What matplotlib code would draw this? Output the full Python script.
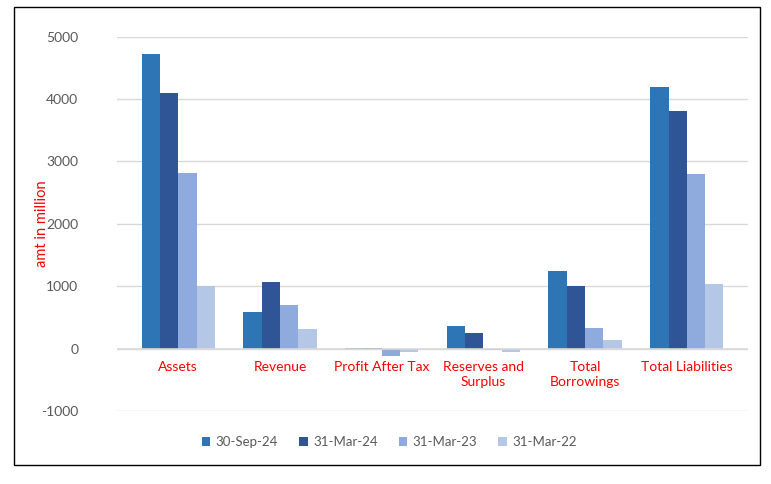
import numpy as np
import matplotlib.pyplot as plt
from matplotlib.patches import Rectangle

# categories and series (amt in million)
categories = ["Assets", "Revenue", "Profit After Tax", "Reserves and\nSurplus", "Total\nBorrowings", "Total Liabilities"]
series_names = ["30-Sep-24", "31-Mar-24", "31-Mar-23", "31-Mar-22"]
sep24 = [4730, 582, 10, 357, 1245, 4195]
mar24 = [4100, 1075, 10, 251, 1000, 3808]
mar23 = [2815, 705, -123, -20, 332, 2800]
mar22 = [1000, 320, -59, -53, 133, 1036]
colors = ["#2E75B6", "#2F5597", "#8FAADC", "#B4C7E7"]

plt.rcParams['font.family'] = ['Lato', 'DejaVu Sans']
plt.rcParams['axes.unicode_minus'] = False

fig = plt.figure(figsize=(7.71, 4.84), dpi=100)
ax = fig.add_axes([0.152, 0.151, 0.818, 0.773])

x = np.arange(len(categories))
width = 0.18
all_series = [sep24, mar24, mar23, mar22]
for i, (vals, name, c) in enumerate(zip(all_series, series_names, colors)):
    ax.bar(x + (i - 1.5) * width, vals, width, color=c, label=name, zorder=3)

ax.set_ylim(-1000, 5000)
ax.set_xlim(-0.6, len(categories) - 0.4)
ax.set_yticks(np.arange(-1000, 5001, 1000))
ax.tick_params(axis='y', length=0, labelsize=10, labelcolor="#595959", pad=28)
ax.set_xticks([])
ax.grid(axis='y', color="#D9D9D9", linewidth=1, zorder=0)
ax.axhline(0, color="#D9D9D9", linewidth=1.2, zorder=4)
for s in ax.spines.values():
    s.set_visible(False)

#category labels sit just under the zero line
for xi, cat in zip(x, categories):
    ax.annotate(cat, (xi, 0), xytext=(0, -9), textcoords='offset points',
                ha='center', va='top', color="red", fontsize=10, linespacing=1.25)

fig.text(0.055, 0.537, "amt in million", rotation=90, color="red", fontsize=10.5,
         ha='center', va='center')

leg = fig.legend(loc='center', bbox_to_anchor=(0.505, 0.087), ncol=4, frameon=False,
                 fontsize=9.5, handlelength=0.65, handleheight=0.65, handletextpad=0.4,
                 columnspacing=1.6, labelcolor="#595959")

# outer border
fig.patches.append(Rectangle((14 / 771, 1 - 465 / 484), (760 - 14) / 771, (465 - 7) / 484,
                             transform=fig.transFigure, fill=False, edgecolor="black", linewidth=1))

fig.savefig("out.png", dpi=100)
